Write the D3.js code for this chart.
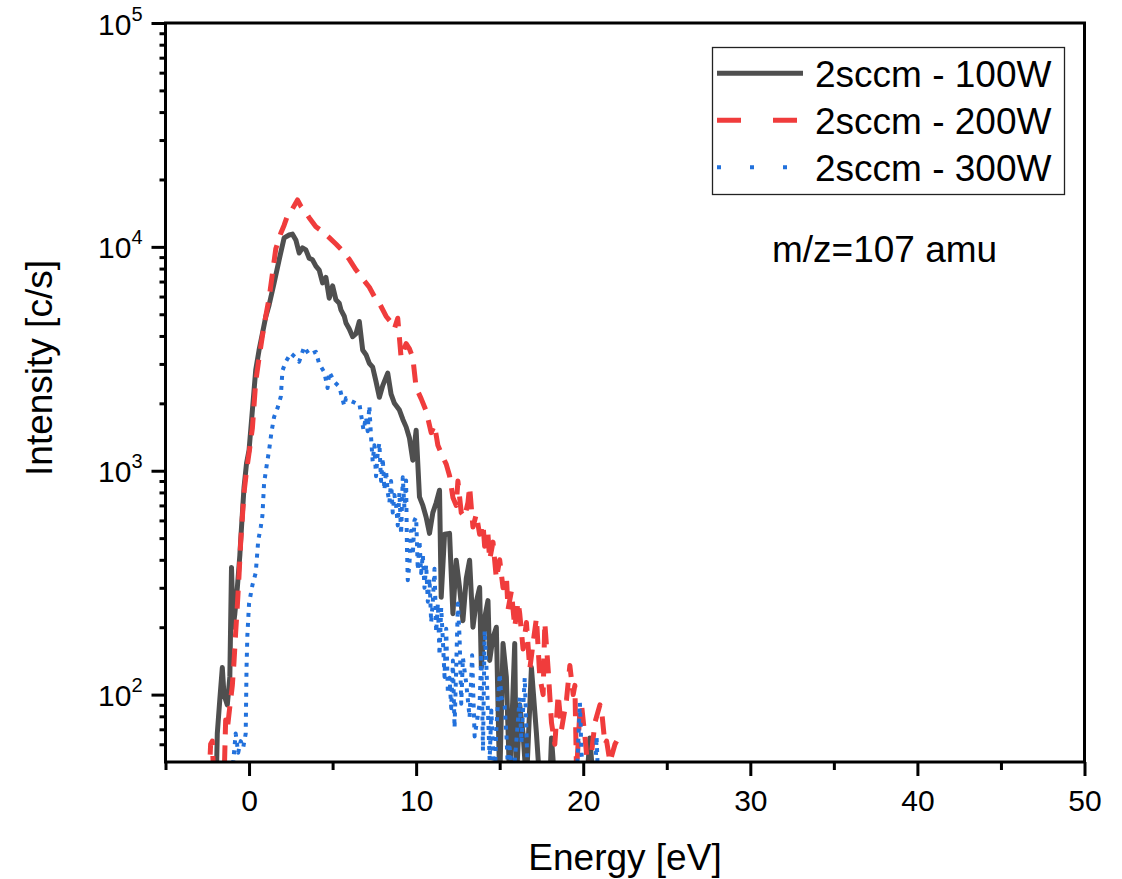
<!DOCTYPE html>
<html>
<head>
<meta charset="utf-8">
<script src="https://cdn.jsdelivr.net/npm/d3@7"></script>
<style>
  body { margin: 0; background: #fff; }
  text { font-family: "Liberation Sans", Arial, sans-serif; fill: #000; }
</style>
</head>
<body>
<svg id="chart" width="1122" height="879"></svg>
<script>
// energy [eV] and intensity [c/s]
const energy100 = [-2.1,-1.95,-1.9,-1.75,-1.6,-1.5,-1.3,-1.15,-1.05,-0.95,-0.85,-0.7,-0.55,-0.5,-0.3,-0.15,0,0.2,0.4,0.6,0.8,1.0,1.2,1.5,1.8,2.1,2.4,2.6,2.8,3.0,3.2,3.4,3.6,3.8,4.0,4.2,4.4,4.6,4.8,5.0,5.2,5.4,5.5,5.7,5.8,6.0,6.2,6.4,6.6,6.8,7.0,7.2,7.4,7.6,7.8,8.0,8.3,8.5,8.7,9.0,9.2,9.4,9.6,9.8,10.0,10.2,10.4,10.6,10.8,11.0,11.2,11.4,11.5,11.7,12.0,12.2,12.4,12.6,12.8,13.0,13.2,13.4,13.6,13.8,13.9,14.1,14.3,14.4,14.6,14.8,15.0,15.2,15.4,15.6,15.9,16.0,16.2,16.4,16.6,16.9,17.2,17.4,18.0,18.1,18.3,20.2,20.4,20.6];
const intensity100 = [40,45,67,95,132,100,90,120,370,200,230,301,420,489,844,1081,1236,1866,2820,3460,4100,4875,5500,6900,8750,10970,11300,11400,10740,9390,9900,9700,8900,8750,8200,7880,6900,7300,5900,6700,5800,5600,5230,4900,4570,4300,3970,4100,4640,3460,3300,3020,2900,2500,2130,2400,2730,2200,2000,1866,1700,1570,1400,1114,1517,764,700,620,525,650,720,818,272,520,525,230,398,300,214,330,398,200,260,301,132,220,263,142,180,200,40,169,120,40,169,40,90,67,40,132,67,40,40,64,40,40,64,40];

const energy200 = [-2.4,-2.3,-2.2,-2.1,-1.5,-1.4,-1.3,-1.2,-1.1,-1.0,-0.9,-0.8,-0.7,-0.6,-0.5,-0.4,-0.3,-0.15,0,0.2,0.4,0.6,0.8,1.0,1.2,1.4,1.6,1.9,2.1,2.3,2.6,2.9,3.1,3.3,3.6,4.0,4.4,4.8,5.2,5.6,6.0,6.4,6.8,7.2,7.5,7.8,8.2,8.5,8.7,8.9,9.1,9.4,9.6,9.8,10.0,10.3,10.6,10.9,11.1,11.3,11.6,11.8,12.0,12.2,12.4,12.5,12.7,12.9,13.1,13.2,13.4,13.6,13.8,14.0,14.1,14.3,14.4,14.6,14.8,15.0,15.2,15.4,15.5,15.7,15.9,16.1,16.2,16.4,16.6,16.8,17.0,17.2,17.4,17.6,17.7,17.9,18.1,18.3,18.5,18.7,19.0,19.2,19.4,19.5,19.6,19.8,19.9,20.1,20.3,20.5,20.7,21.0,21.1,21.3,21.4,21.6,21.9,22.0];
const intensity200 = [40,60,62,40,40,77,70,82,95,110,140,190,250,340,480,620,800,1000,1200,1550,2500,3200,4000,4900,5900,7600,9800,11500,12500,13800,14800,16200,15200,14600,13500,12300,11700,11000,10300,9600,8800,7900,7200,6600,6000,5600,4900,4600,4300,4800,3200,3700,3500,3200,2350,2100,1850,1480,1600,1300,1150,1070,950,760,700,900,650,620,720,850,560,640,520,580,460,520,400,480,330,400,300,340,240,290,200,260,230,160,210,130,170,220,120,100,210,130,75,60,100,70,95,135,100,110,45,85,90,65,45,55,75,90,85,60,62,50,60,62];

const energy300 = [-1.2,-1.0,-0.8,-0.65,-0.5,-0.35,-0.2,-0.15,-0.1,0,0.2,0.4,0.55,0.7,0.8,0.9,1.05,1.2,1.35,1.5,1.7,1.9,2.0,2.2,2.5,2.8,3.0,3.3,3.6,4.0,4.2,4.5,4.7,4.8,5.1,5.4,5.7,5.8,6.1,6.4,6.6,6.85,7.0,7.1,7.2,7.3,7.4,7.5,7.6,7.7,7.8,7.9,8.0,8.1,8.2,8.3,8.4,8.5,8.6,8.7,8.8,8.9,9.0,9.1,9.2,9.3,9.4,9.45,9.5,9.6,9.7,9.8,9.9,10.0,10.1,10.2,10.3,10.4,10.5,10.6,10.7,10.8,10.9,11.0,11.1,11.2,11.3,11.4,11.5,11.6,11.7,11.8,11.9,12.0,12.1,12.2,12.3,12.5,12.6,12.7,12.8,13.0,13.2,13.35,13.5,13.8,13.9,14.0,14.1,14.2,14.4,14.5,14.7,14.8,15.0,15.1,15.3,15.4,15.5,15.6,15.8,16.2,16.3,16.5,16.7,19.6,19.8,19.9,20.1,20.7,20.8,20.9];
const intensity300 = [40,45,67,55,62,58,67,132,184,255,308,350,488,560,630,880,1050,1235,1500,1740,1900,2140,2800,3070,3350,3200,3070,3580,3300,3400,3000,2760,2340,2760,2500,2370,1950,2110,2050,2000,2000,1520,1740,1500,1950,1420,1100,1300,945,1200,1330,900,1140,820,1000,800,720,900,650,780,700,570,800,520,935,680,905,457,324,385,540,420,600,620,360,488,349,422,300,380,260,330,210,263,365,190,255,150,245,175,120,197,101,119,87,142,71,255,180,91,146,112,79,150,65,91,153,56,193,138,51,85,40,70,124,97,89,67,45,58,40,97,61,119,40,40,92,54,40,40,65,40];

const seriesNames = ["2sccm - 100W", "2sccm - 200W", "2sccm - 300W"];
const xTicks = [0, 10, 20, 30, 40, 50];
const xMinorTicks = [-5, 5, 15, 25, 35, 45];
const yTicks = [1e2, 1e3, 1e4, 1e5];
const yTickExp = ["2", "3", "4", "5"];

const svg = d3.select("#chart");
const mLeft = 165.5, mRight = 1084.5, mTop = 23, mBottom = 762;

const x = d3.scaleLinear().domain([-5, 50]).range([mLeft, mRight]);
const y = d3.scaleLog().domain([50, 1e5]).range([mBottom, mTop]);

// minor log ticks 2..9 in each decade
let yMinorTicks = [];
[10, 100, 1000, 10000].forEach(function (dec) {
    for (let k = 2; k <= 9; k++) {
        let v = dec * k;
        if (v > 50 && v < 1e5) yMinorTicks.push(v);
    }
});

svg.append("defs").append("clipPath").attr("id", "plotclip")
    .append("rect")
    .attr("x", mLeft).attr("y", mTop)
    .attr("width", mRight - mLeft).attr("height", mBottom - mTop);

// series
const styles = [
    { color: "#4f4f4f", width: 5, dash: null, cap: "round" },
    { color: "#f03c3c", width: 5, dash: "18,11", cap: "butt" },
    { color: "#2271dc", width: 4, dash: "4,6", cap: "butt" }
];
const data = [
    d3.zip(energy100, intensity100),
    d3.zip(energy200, intensity200),
    d3.zip(energy300, intensity300)
];

const line = d3.line()
    .x(d => x(d[0]))
    .y(d => y(d[1]));

const plot = svg.append("g").attr("clip-path", "url(#plotclip)");
data.forEach(function (d, i) {
    plot.append("path")
        .datum(d)
        .attr("d", line)
        .attr("fill", "none")
        .attr("stroke", styles[i].color)
        .attr("stroke-width", styles[i].width)
        .attr("stroke-linejoin", "round")
        .attr("stroke-linecap", styles[i].cap)
        .attr("stroke-dasharray", styles[i].dash);
});

// axes
const gxMinor = svg.append("g").attr("transform", "translate(0," + mBottom + ")")
    .call(d3.axisBottom(x).tickValues(xMinorTicks).tickSize(8).tickFormat(""));
const gx = svg.append("g").attr("transform", "translate(0," + mBottom + ")")
    .call(d3.axisBottom(x).tickValues(xTicks).tickSize(14).tickPadding(14));
gx.selectAll(".tick text").style("font-size", "30px");

const gyMinor = svg.append("g").attr("transform", "translate(" + mLeft + ",0)")
    .call(d3.axisLeft(y).tickValues(yMinorTicks).tickSize(6).tickFormat(""));
const gy = svg.append("g").attr("transform", "translate(" + mLeft + ",0)")
    .call(d3.axisLeft(y).tickValues(yTicks).tickSize(14).tickFormat(""));

gy.selectAll(".tick").append("text")
    .attr("x", -23)
    .attr("y", 11)
    .attr("text-anchor", "end")
    .style("font-size", "30px")
    .each(function (d, i) {
        let t = d3.select(this);
        t.append("tspan").text("10");
        t.append("tspan").attr("dy", -14).style("font-size", "20px").text(yTickExp[i]);
    });

[gx, gxMinor, gy, gyMinor].forEach(function (g) {
    g.select(".domain").remove();
    g.selectAll(".tick line").attr("stroke", "#000").attr("stroke-width", 3);
});

// frame
svg.append("rect")
    .attr("x", mLeft).attr("y", mTop)
    .attr("width", mRight - mLeft).attr("height", mBottom - mTop)
    .attr("fill", "none")
    .attr("stroke", "#000")
    .attr("stroke-width", 3);

// axis titles
svg.append("text")
    .attr("x", (mLeft + mRight) / 2)
    .attr("y", 870)
    .attr("text-anchor", "middle")
    .style("font-size", "37px")
    .text("Energy [eV]");

svg.append("text")
    .attr("transform", "translate(52," + 368 + ") rotate(-90)")
    .attr("text-anchor", "middle")
    .style("font-size", "37px")
    .text("Intensity [c/s]");

// annotation
svg.append("text")
    .attr("x", 772)
    .attr("y", 262)
    .style("font-size", "37px")
    .text("m/z=107 amu");

// legend
const legend = svg.append("g");
legend.append("rect")
    .attr("x", 712.5).attr("y", 47.5)
    .attr("width", 352).attr("height", 147)
    .attr("fill", "#fff")
    .attr("stroke", "#222")
    .attr("stroke-width", 1.3);

const legendDash = [null, "24,32", "4,29"];
seriesNames.forEach(function (name, i) {
    let cy = 73.3 + i * 47;
    legend.append("line")
        .attr("x1", 717).attr("x2", 803)
        .attr("y1", cy).attr("y2", cy)
        .attr("stroke", styles[i].color)
        .attr("stroke-width", i == 2 ? 4 : 5)
        .attr("stroke-dasharray", legendDash[i]);
    legend.append("text")
        .attr("x", 815)
        .attr("y", cy + 13.4)
        .style("font-size", "37px")
        .text(name);
});
</script>
</body>
</html>
